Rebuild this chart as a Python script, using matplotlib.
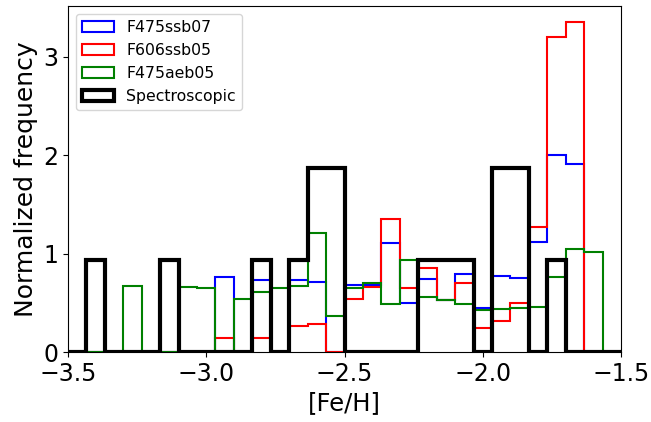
import numpy as np
import matplotlib
matplotlib.use("Agg")
import matplotlib.pyplot as plt

# bin edges shared by all histograms
bin_lo, bin_hi, n_bins = -3.5, -1.5, 30

# normalized frequency per bin (30 bins from -3.5 to -1.5)
f475ssb07 = [0, 0, 0, 0, 0, 0, 0, 0, 0.76, 0,
             0.73, 0, 0.735, 0.715, 0, 0.68, 0.68, 1.11, 0.495, 0.742,
             0.53, 0.79, 0.445, 0.773, 0.75, 1.12, 2.00, 1.91, 0, 0]
f606ssb05 = [0, 0, 0, 0, 0, 0, 0, 0, 0.146, 0,
             0.14, 0, 0.26, 0.285, 0, 0.536, 0.66, 1.35, 0.648, 0.85,
             0.53, 0.705, 0.24, 0.32, 0.495, 1.275, 3.20, 3.35, 0, 0]
f475aeb05 = [0, 0, 0, 0.67, 0, 0, 0.66, 0.65, 0, 0.54,
             0.607, 0.654, 0.67, 1.21, 0.37, 0.648, 0.70, 0.485, 0.936, 0.563,
             0.529, 0.488, 0.427, 0.434, 0.444, 0.455, 0.766, 1.05, 1.02, 0]
spectroscopic = [0, 0.9375, 0, 0, 0, 0.9375, 0, 0, 0, 0,
                 0.9375, 0, 0.9375, 1.875, 1.875, 0, 0, 0, 0, 0.9375,
                 0.9375, 0.9375, 0, 1.875, 1.875, 0, 0.9375, 0, 0, 0]

labels = ["F475ssb07", "F606ssb05", "F475aeb05", "Spectroscopic"]
colors = ["blue", "red", "green", "black"]
widths = [1.5, 1.5, 1.5, 3.0]
xticks = [-3.5, -3.0, -2.5, -2.0, -1.5]
yticks = [0, 1, 2, 3]

bins = np.linspace(bin_lo, bin_hi, n_bins + 1)
centers = 0.5 * (bins[:-1] + bins[1:])

fig = plt.figure(figsize=(6.51, 4.22), dpi=100)
ax = fig.add_axes([68 / 651, 70 / 422, (621 - 68) / 651, (416 - 70) / 422])

for vals, lab, col, lw in zip([f475ssb07, f606ssb05, f475aeb05, spectroscopic],
                              labels, colors, widths):
    ax.hist(centers, bins=bins, weights=vals, histtype="step",
            color=col, linewidth=lw, label=lab)

ax.set_xlim(bin_lo, bin_hi)
ax.set_xticks(xticks)
ax.set_yticks(yticks)
ax.tick_params(labelsize=17)
ax.set_xlabel("[Fe/H]", fontsize=17.5)
ax.set_ylabel("Normalized frequency", fontsize=18)
ax.legend(loc="upper left", fontsize=11.3)

fig.savefig("out.png", dpi=100)
